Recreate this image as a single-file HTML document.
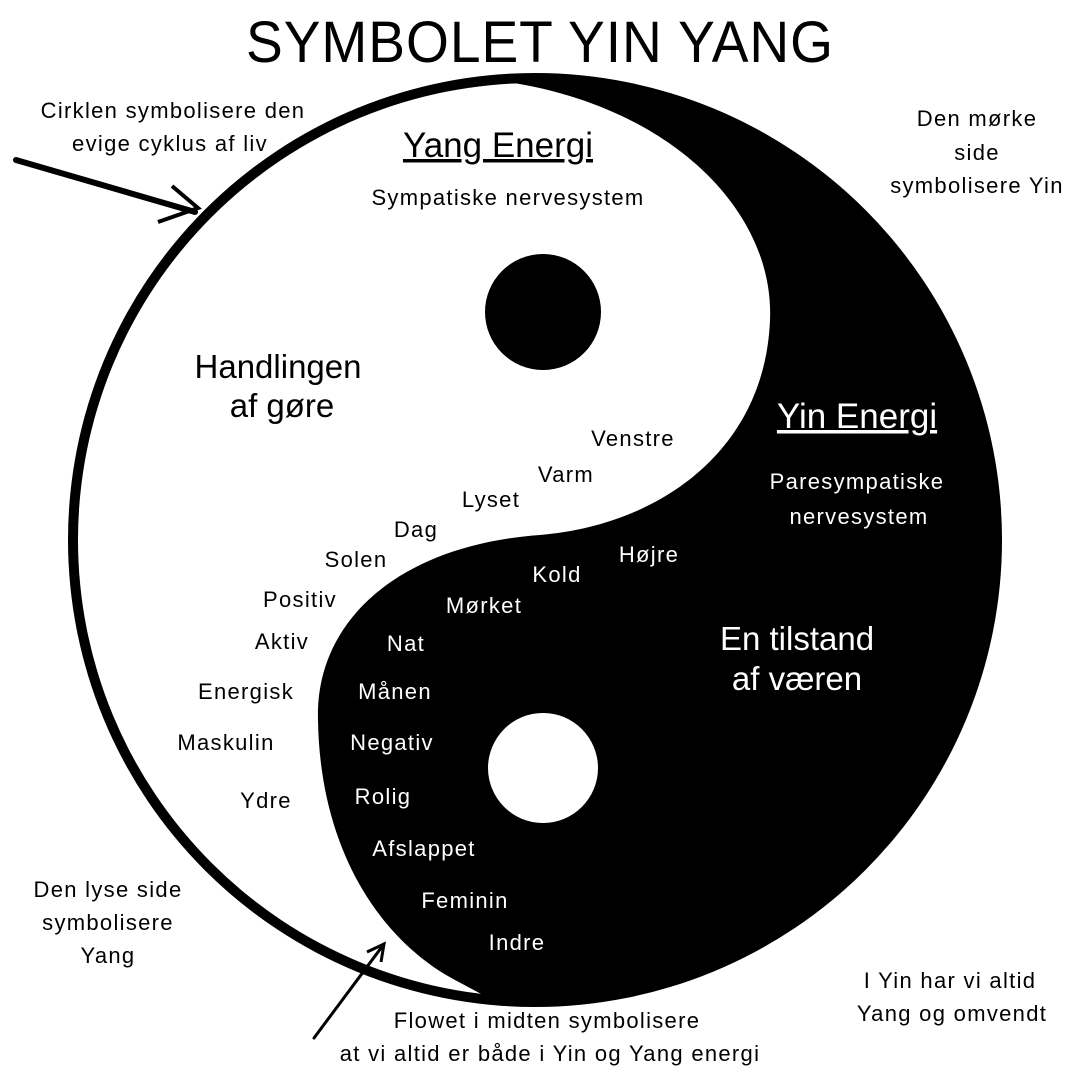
<!DOCTYPE html>
<html><head><meta charset="utf-8"><style>
html,body{margin:0;padding:0;background:#fff}
svg{display:block}
text{font-family:"Liberation Sans",sans-serif}
</style></head><body>
<svg width="1080" height="1080" viewBox="0 0 1080 1080">
<rect width="1080" height="1080" fill="#fff"/>
<text x="540" y="62" font-size="58" text-anchor="middle" fill="#000" letter-spacing="1" textLength="588" lengthAdjust="spacingAndGlyphs">SYMBOLET YIN YANG</text>
<circle cx="535" cy="540" r="467" fill="#000"/>
<circle cx="535" cy="540" r="457" fill="#fff"/>
<path d="M470 78 C650 90 775 200 770 320 C765 450 660 525 540 535 C400 545 315 620 318 720 C320 850 380 940 455 980 L500 1004 A466 466 0 1 0 470 78 Z" fill="#000"/>
<circle cx="543" cy="312" r="58" fill="#000"/>
<circle cx="543" cy="768" r="55" fill="#fff"/>
<path d="M16 160 L195 212" stroke="#000" stroke-width="6" stroke-linecap="round"/>
<path d="M172 186 L198 208 L158 222" stroke="#000" stroke-width="4" fill="none"/>
<path d="M314 1038 L384 944" stroke="#000" stroke-width="3" stroke-linecap="round"/>
<path d="M367 952 L384 944 L381 962" stroke="#000" stroke-width="3" fill="none"/>
<g font-size="22" fill="#000" text-anchor="middle" letter-spacing="1.3">
<text x="173" y="118">Cirklen symbolisere den</text>
<text x="170" y="151">evige cyklus af liv</text>
<text x="977" y="126">Den mørke</text>
<text x="977" y="160">side</text>
<text x="977" y="193">symbolisere Yin</text>
<text x="108" y="897">Den lyse side</text>
<text x="108" y="930">symbolisere</text>
<text x="108" y="963">Yang</text>
<text x="950" y="988">I Yin har vi altid</text>
<text x="952" y="1021">Yang og omvendt</text>
<text x="547" y="1028">Flowet i midten symbolisere</text>
<text x="550" y="1061">at vi altid er både i Yin og Yang energi</text>
<text x="508" y="205">Sympatiske nervesystem</text>
<text x="633" y="446">Venstre</text>
<text x="566" y="482">Varm</text>
<text x="491" y="507">Lyset</text>
<text x="416" y="537">Dag</text>
<text x="356" y="567">Solen</text>
<text x="300" y="607">Positiv</text>
<text x="282" y="649">Aktiv</text>
<text x="246" y="699">Energisk</text>
<text x="226" y="750">Maskulin</text>
<text x="266" y="808">Ydre</text>
</g>
<g fill="#000" text-anchor="middle">
<text x="278" y="378" font-size="33">Handlingen</text>
<text x="282" y="417" font-size="33">af gøre</text>
<text x="498" y="157" font-size="35" text-decoration="underline">Yang Energi</text>
</g>
<g font-size="22" fill="#fff" text-anchor="middle" letter-spacing="1.3">
<text x="857" y="489">Paresympatiske</text>
<text x="859" y="524">nervesystem</text>
<text x="649" y="562">Højre</text>
<text x="557" y="582">Kold</text>
<text x="484" y="613">Mørket</text>
<text x="406" y="651">Nat</text>
<text x="395" y="699">Månen</text>
<text x="392" y="750">Negativ</text>
<text x="383" y="804">Rolig</text>
<text x="424" y="856">Afslappet</text>
<text x="465" y="908">Feminin</text>
<text x="517" y="950">Indre</text>
</g>
<g fill="#fff" text-anchor="middle">
<text x="857" y="428" font-size="35" text-decoration="underline">Yin Energi</text>
<text x="797" y="650" font-size="33">En tilstand</text>
<text x="797" y="690" font-size="33">af væren</text>
</g>
</svg>
</body></html>
